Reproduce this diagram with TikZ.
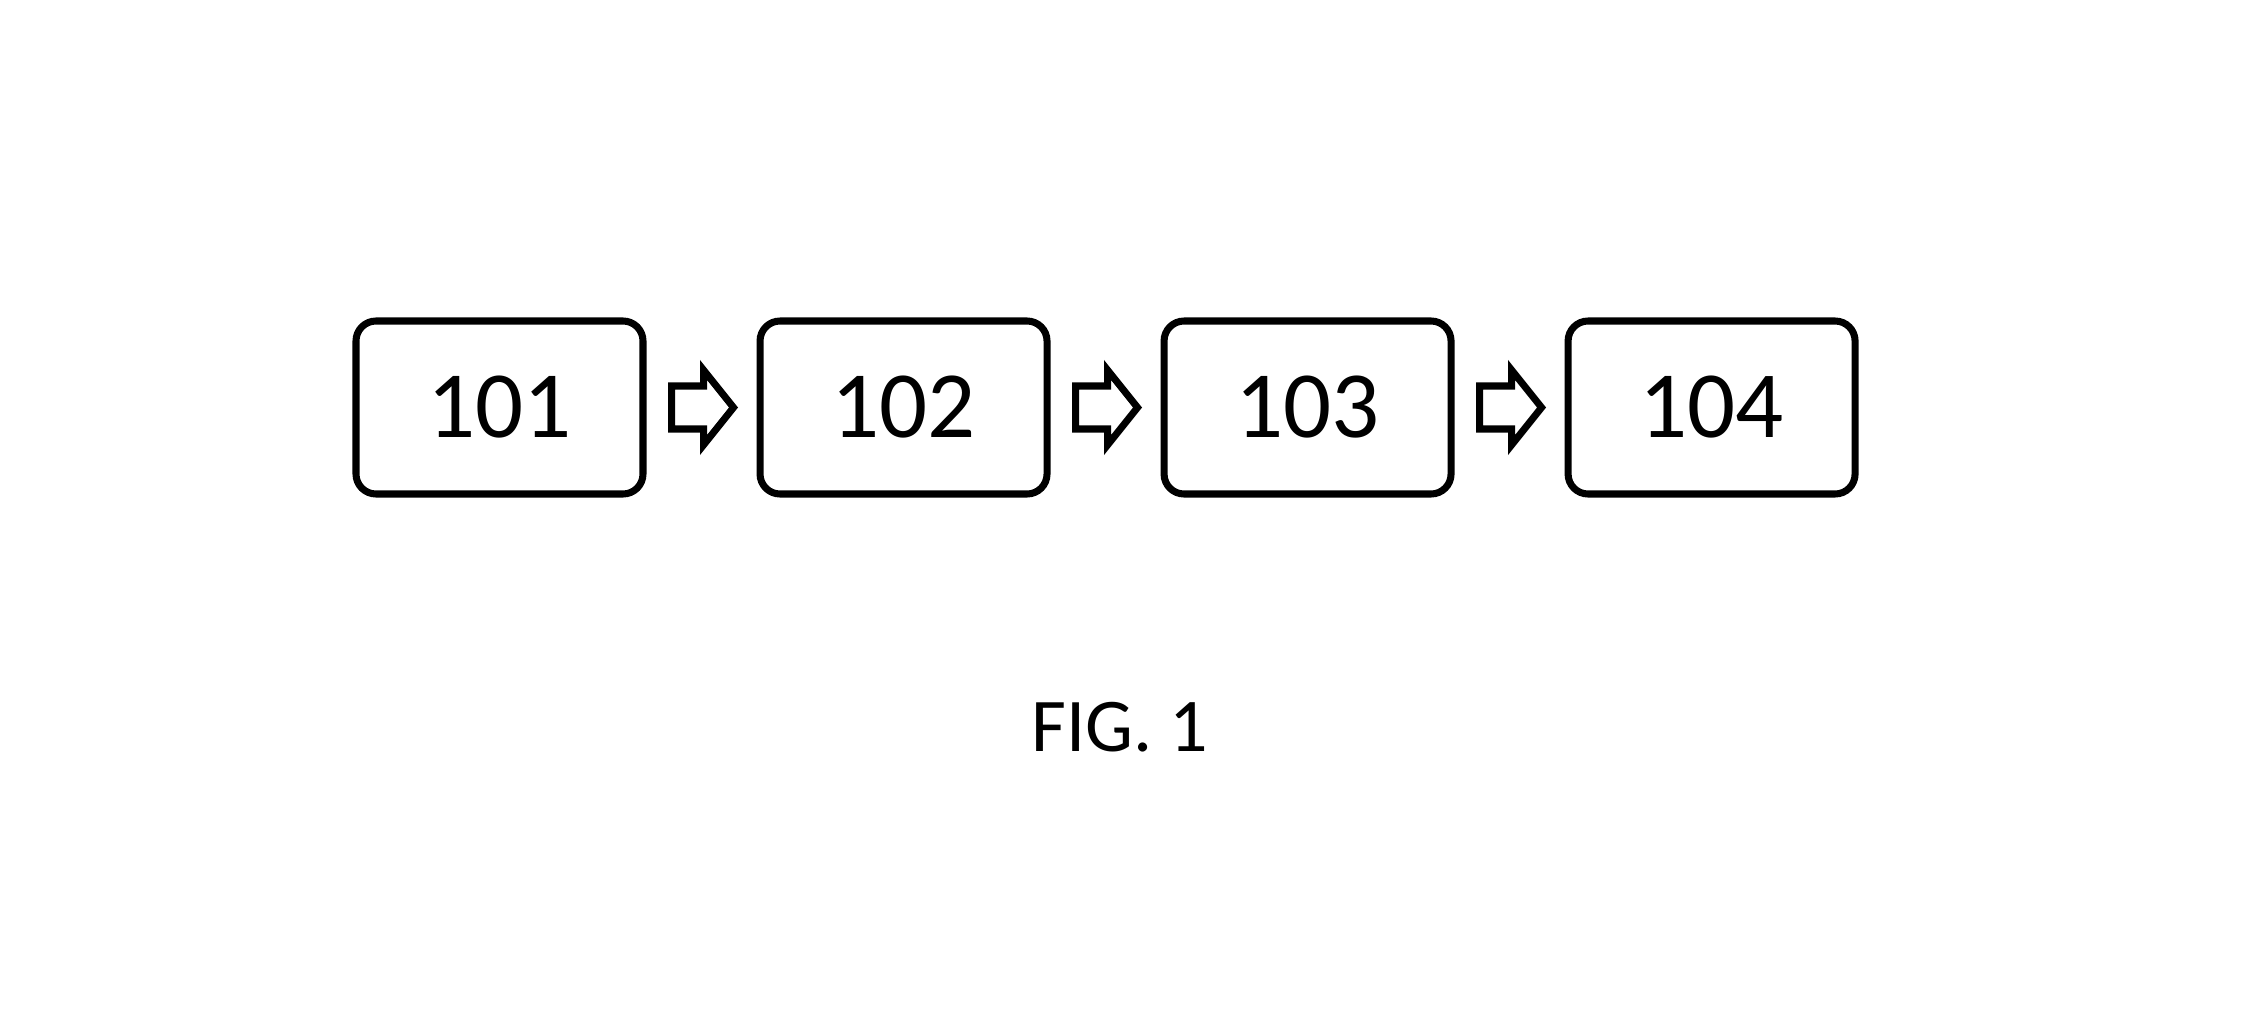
\documentclass[tikz,border=0pt]{standalone}
\usepackage{tikz}
\usepackage{fontspec}
\setmainfont{Carlito}
\usetikzlibrary{positioning,calc}

\begin{document}
\begin{tikzpicture}[
          every node/.style={font=\fontsize{27}{30}\selectfont},
          stage/.style={draw, line width=2pt, rounded corners=0.2cm, minimum width=2.87cm, minimum height=1.73cm, inner sep=0pt},
          caption/.style={font=\fontsize{21.6}{24}\selectfont},
          flowarrow/.pic={
            \draw[line width=2pt] (0,0.215) -- (0.32,0.215) -- (0.32,0.375) -- (0.62,0)
              -- (0.32,-0.375) -- (0.32,-0.215) -- (0,-0.215) -- cycle;
          }
      ]
        \useasboundingbox (0,0) rectangle (22.65,10.09);
        \node[stage] (s1) at (4.995,6.015) {101};
        \node[stage, right=1.1cm of s1] (s2) {102};
        \node[stage, right=1.1cm of s2] (s3) {103};
        \node[stage, right=1.1cm of s3] (s4) {104};
        \pic (a1) at ($(s1.east)+(0.25,0)$) {flowarrow};
        \pic (a2) at ($(s2.east)+(0.25,0)$) {flowarrow};
        \pic (a3) at ($(s3.east)+(0.25,0)$) {flowarrow};
        \node[caption] (fig) at (11.2,2.82) {FIG. 1};
      \end{tikzpicture}
\end{document}
